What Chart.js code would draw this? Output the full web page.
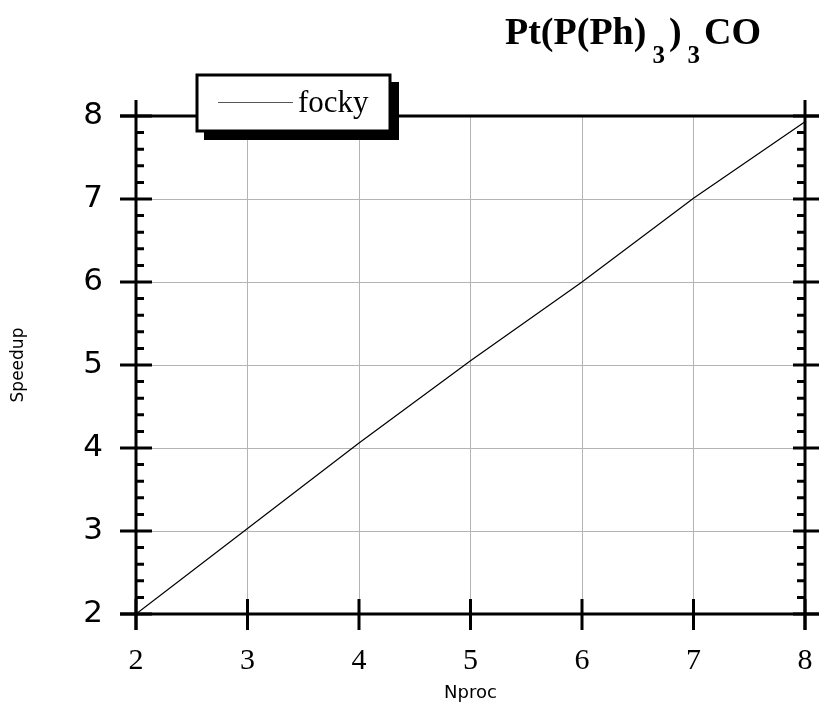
<!DOCTYPE html>
<html>
<head>
<meta charset="utf-8">
<script src="https://cdn.jsdelivr.net/npm/chart.js@4"></script>
<style>
  html, body { margin: 0; padding: 0; background: #fff; }
  #wrap { width: 819px; height: 709px; position: relative; }
</style>
</head>
<body>
<div id="wrap"><canvas id="myChart"></canvas></div>
<script>
const nproc = [2, 3, 4, 5, 6, 7, 8];
const speedup = [2.0, 3.03, 4.06, 5.05, 6.0, 7.01, 7.93];
const xTicks = [2, 3, 4, 5, 6, 7, 8];
const yTicks = [2, 3, 4, 5, 6, 7, 8];
const seriesName = 'focky';

// frame, cross ticks, legend box and title, drawn on top of the chart
const framePlugin = {
    id: 'frame',
    afterDraw(chart) {
        const c = chart.ctx;
        const a = chart.chartArea;
        const xs = chart.scales.x, ys = chart.scales.y;
        c.save();
        c.strokeStyle = '#000';
        c.lineCap = 'butt';

        // axis lines
        c.lineWidth = 3;
        c.beginPath();
        c.moveTo(a.left - 16, a.bottom); c.lineTo(chart.width, a.bottom);
        c.moveTo(a.left - 16, a.top); c.lineTo(chart.width, a.top);
        c.moveTo(a.left, a.top - 16); c.lineTo(a.left, a.bottom + 16);
        c.moveTo(a.right, a.top - 16); c.lineTo(a.right, a.bottom + 16);
        c.stroke();

        // major ticks
        c.beginPath();
        yTicks.forEach(v => {
            const y = ys.getPixelForValue(v);
            c.moveTo(a.left - 16, y); c.lineTo(a.left + 16, y);
            c.moveTo(a.right - 12, y); c.lineTo(chart.width, y);
        });
        xTicks.forEach(v => {
            const x = xs.getPixelForValue(v);
            c.moveTo(x, a.bottom - 15); c.lineTo(x, a.bottom + 16);
        });
        c.stroke();

        // minor ticks on y
        c.beginPath();
        for (let i = 0; i < yTicks.length - 1; i++) {
            for (let k = 1; k < 5; k++) {
                const y = ys.getPixelForValue(yTicks[i] + k / 5);
                c.moveTo(a.left, y); c.lineTo(a.left + 8, y);
                c.moveTo(a.right - 8, y); c.lineTo(a.right, y);
            }
        }
        c.stroke();

        // legend box with shadow
        const bx = 197, by = 75, bw = 193, bh = 56;
        c.fillStyle = '#000';
        c.fillRect(bx + 7, by + 7, bw + 2, bh + 2);
        c.fillStyle = '#fff';
        c.fillRect(bx, by, bw, bh);
        c.lineWidth = 3;
        c.strokeRect(bx, by, bw, bh);
        c.lineWidth = 1;
        c.strokeStyle = '#555';
        c.beginPath();
        c.moveTo(bx + 21, by + 27.5); c.lineTo(bx + 96, by + 27.5);
        c.stroke();
        c.fillStyle = '#000';
        c.font = '31px "Liberation Serif"';
        c.textBaseline = 'alphabetic';
        c.textAlign = 'left';
        c.fillText(chart.data.datasets[0].label, bx + 101, by + 37);

        // title with subscripts
        const parts = [['Pt(P(Ph)', 0], ['3', 1], [')', 0], ['3', 1], ['CO', 0]];
        let tx = 505;
        parts.forEach(([t, sub]) => {
            c.font = sub ? 'bold 25px "Liberation Serif"' : 'bold 38px "Liberation Serif"';
            c.fillText(t, tx, sub ? 63 : 44);
            tx += c.measureText(t).width + (sub ? 4 : 6);
        });
        c.restore();
    }
};

const ctx = document.getElementById('myChart');

new Chart(ctx, {
    type: 'line',
    data: {
        datasets: [{
            label: seriesName,
            data: nproc.map((n, i) => ({ x: n, y: speedup[i] })),
            borderColor: '#000',
            borderWidth: 1.2,
            pointRadius: 0,
            fill: false,
            tension: 0
        }]
    },
    options: {
        responsive: true,
        maintainAspectRatio: false,
        animation: false,
        layout: { padding: { top: 116, right: 14, left: 0, bottom: 0 } },
        plugins: {
            legend: { display: false },
            tooltip: { enabled: false }
        },
        scales: {
            x: {
                type: 'linear',
                min: 2,
                max: 8,
                afterFit(scale) {
                    scale.height = 95;
                    scale.paddingLeft = 0;
                    scale.paddingRight = 0;
                },
                afterBuildTicks(scale) { scale.ticks = xTicks.map(v => ({ value: v })); },
                border: { display: false },
                grid: { color: '#b4b4b4', lineWidth: 1, drawTicks: false },
                ticks: {
                    padding: 29,
                    color: '#000',
                    font: { family: '"Liberation Serif"', size: 30 }
                },
                title: {
                    display: true,
                    text: 'Nproc',
                    color: '#000',
                    font: { family: '"DejaVu Sans"', size: 18 },
                    padding: { top: 0, bottom: 5 }
                }
            },
            y: {
                min: 2,
                max: 8,
                afterFit(scale) {
                    scale.width = 136;
                    scale.paddingTop = 0;
                    scale.paddingBottom = 0;
                },
                afterBuildTicks(scale) { scale.ticks = yTicks.map(v => ({ value: v })); },
                border: { display: false },
                grid: { color: '#b4b4b4', lineWidth: 1, drawTicks: false },
                ticks: {
                    padding: 33,
                    color: '#000',
                    font: { family: '"DejaVu Sans"', size: 31 }
                },
                title: {
                    display: true,
                    text: 'Speedup',
                    color: '#000',
                    font: { family: '"DejaVu Sans"', size: 17 },
                    padding: { top: 8, bottom: 0 }
                }
            }
        }
    },
    plugins: [framePlugin]
});
</script>
</body>
</html>
